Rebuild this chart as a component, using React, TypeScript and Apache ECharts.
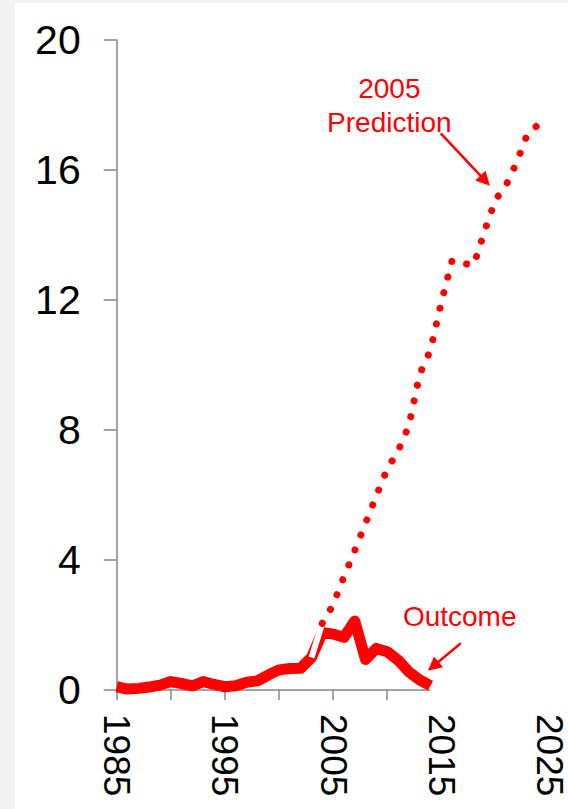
import React, { useEffect, useRef } from 'react';
import * as echarts from 'echarts';

// ---- data ----
const outcomeYears = [
  1985, 1986, 1987, 1988, 1989, 1990, 1991, 1992, 1993, 1994,
  1995, 1996, 1997, 1998, 1999, 2000, 2001, 2002, 2003, 2004,
  2005, 2006, 2007, 2008, 2009, 2010, 2011, 2012, 2013, 2014,
];
const outcomeValues = [
  0.1, 0.03, 0.05, 0.09, 0.15, 0.26, 0.2, 0.13, 0.26, 0.17,
  0.1, 0.13, 0.24, 0.28, 0.46, 0.62, 0.66, 0.67, 1.0, 1.77,
  1.72, 1.62, 2.12, 0.94, 1.28, 1.18, 0.92, 0.56, 0.31, 0.13,
];

const predictionYears = [
  2004, 2005, 2006, 2007, 2008, 2009, 2010, 2011, 2012, 2013, 2014,
  2015, 2016, 2017, 2018, 2019, 2020, 2021, 2022, 2023, 2024, 2025,
];
const predictionValues = [
  2.05, 2.62, 3.48, 4.29, 5.13, 5.98, 6.8, 7.35, 8.13, 9.71, 10.46,
  11.93, 13.22, 13.12, 13.08, 14.12, 15.08, 15.54, 16.26, 17.14, 17.4, 17.55,
];

// hidden (white) first segment of the prediction line
const maskYears = [2003, 2004];
const maskValues = [1.0, 2.05];

const xTickYears = [1985, 1990, 1995, 2000, 2005, 2010];
const xLabelYears = [1985, 1995, 2005, 2015, 2025];
const axisLineYears = [1985, 2014];

const predictionLabel = '2005\nPrediction';
const predictionLabelAt = [2010.2, 18.0];
const predictionArrowFrom = [2014.95, 17.13];
const predictionArrowTo = [2019.05, 15.67];

const outcomeLabel = 'Outcome';
const outcomeLabelAt = [2016.7, 2.25];
const outcomeArrowFrom = [2016.8, 1.44];
const outcomeArrowTo = [2014.25, 0.73];

const RED = '#ff0000';
const GRAY = '#868686';
const FONT = '"Liberation Sans", Arial, sans-serif';

export default function App() {
  const ref = useRef<HTMLDivElement>(null);

  useEffect(() => {
    document.body.style.margin = '0';
    const chart = echarts.init(ref.current as HTMLDivElement, null, { renderer: 'svg' });
    const zip = (xs: number[], ys: number[]) => xs.map((x, i) => [x, ys[i]]);

    chart.setOption({
      animation: false,
      backgroundColor: '#ffffff',
      grid: { left: 101.7, top: 37, width: 436.2, height: 650 },
      xAxis: {
        type: 'value',
        min: 1985,
        max: 2025,
        axisLine: { show: false },
        splitLine: { show: false },
        axisTick: {
          show: true,
          customValues: xTickYears,
          length: 10,
          lineStyle: { color: GRAY, width: 1.5 },
        },
        axisLabel: {
          customValues: xLabelYears,
          rotate: -90,
          fontSize: 37,
          margin: 24,
          color: '#000',
          fontFamily: FONT,
          formatter: (v: number) => String(v),
        },
      },
      yAxis: {
        type: 'value',
        min: 0,
        max: 20,
        interval: 4,
        splitLine: { show: false },
        axisLine: { show: true, lineStyle: { color: GRAY, width: 1.5 } },
        axisTick: { show: true, length: 13, lineStyle: { color: GRAY, width: 1.5 } },
        axisLabel: { fontSize: 41, margin: 36, color: '#000', fontFamily: FONT },
      },
      series: [
        {
          type: 'line',
          data: [],
          silent: true,
          z: 1,
          markLine: {
            z: 1,
            silent: true,
            symbol: 'none',
            label: { show: false },
            lineStyle: { color: GRAY, width: 1.5, type: 'solid' },
            data: [[{ coord: [axisLineYears[0], 0] }, { coord: [axisLineYears[1], 0] }]],
          },
        },
        {
          name: 'Outcome',
          type: 'line',
          data: zip(outcomeYears, outcomeValues),
          showSymbol: false,
          z: 2,
          lineStyle: { color: RED, width: 11, join: 'round', cap: 'butt' },
        },
        {
          type: 'line',
          data: zip(maskYears, maskValues),
          showSymbol: false,
          z: 3,
          lineStyle: { color: '#ffffff', width: 6 },
        },
        {
          name: 'Prediction',
          type: 'line',
          data: zip(predictionYears, predictionValues),
          showSymbol: false,
          z: 4,
          lineStyle: { color: RED, width: 7, type: [0.1, 16], cap: 'round' },
          markLine: {
            z: 5,
            silent: true,
            symbol: ['none', 'triangle'],
            symbolSize: 14,
            label: { show: false },
            lineStyle: { color: RED, width: 2.5, type: 'solid' },
            data: [
              [{ coord: predictionArrowFrom }, { coord: predictionArrowTo }],
              [{ coord: outcomeArrowFrom }, { coord: outcomeArrowTo }],
            ],
          },
          markPoint: {
            z: 5,
            silent: true,
            symbol: 'circle',
            symbolSize: 1,
            itemStyle: { color: 'rgba(0,0,0,0)' },
            label: {
              show: true,
              position: 'inside',
              formatter: '{b}',
              color: RED,
              fontSize: 28,
              lineHeight: 34,
              fontFamily: FONT,
              align: 'center',
            },
            data: [
              { name: predictionLabel, coord: predictionLabelAt },
              { name: outcomeLabel, coord: outcomeLabelAt },
            ],
          },
        },
      ],
    });
    return () => chart.dispose();
  }, []);

  return (
    <div style={{ position: 'relative', width: 568, height: 809, background: '#f2f2f2', overflow: 'hidden' }}>
      <div ref={ref} style={{ position: 'absolute', left: 15, top: 3, width: 553, height: 806 }} />
    </div>
  );
}
